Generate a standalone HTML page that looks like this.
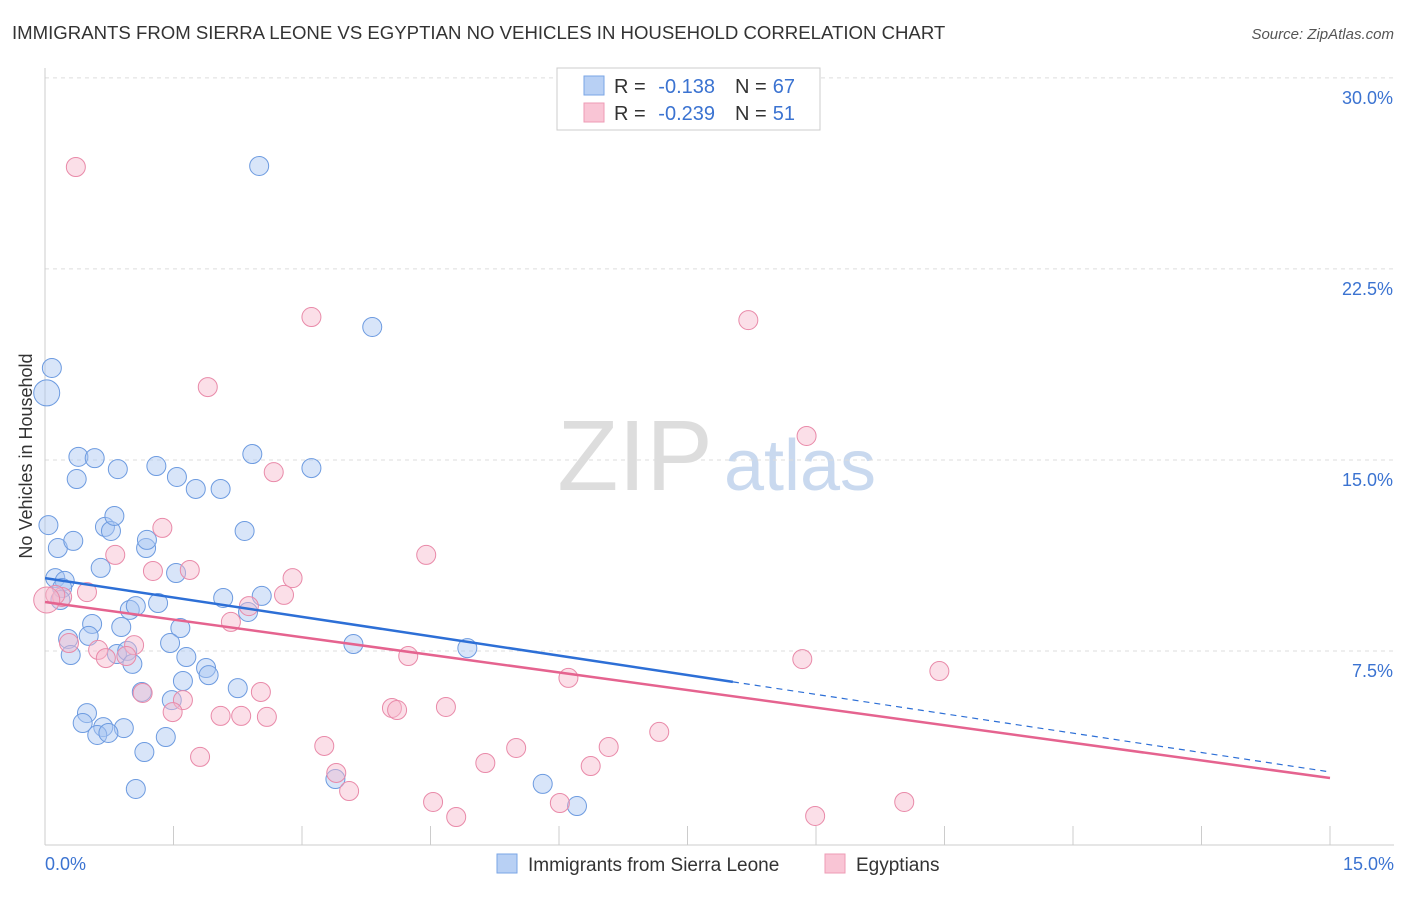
<!DOCTYPE html>
<html><head><meta charset="utf-8"><style>
body{margin:0;background:#fff;font-family:"Liberation Sans",sans-serif}
svg text{font-family:"Liberation Sans",sans-serif}
</style></head><body>
<svg id="chart" width="1406" height="892">
<text x="12" y="39" font-size="18.6" fill="#333">IMMIGRANTS FROM SIERRA LEONE VS EGYPTIAN NO VEHICLES IN HOUSEHOLD CORRELATION CHART</text>
<text x="1394" y="39" font-size="15" fill="#555" font-style="italic" text-anchor="end">Source: ZipAtlas.com</text>
<text x="32" y="456" font-size="18" fill="#333" text-anchor="middle" transform="rotate(-90 32 456)">No Vehicles in Household</text>
<g><text x="635" y="490" font-size="100" fill="#ddd" font-family="Liberation Serif" text-anchor="middle">ZIP</text><text x="800" y="490" font-size="72" fill="#c9d9ef" text-anchor="middle">atlas</text></g>
<g id="grid"></g><g id="axes"></g><g id="pts"></g><g id="trend"></g>
<g>
<rect x="557" y="68" width="263" height="62" fill="#fff" stroke="#ccc"/>
<rect x="584" y="76" width="20" height="19" fill="#b8d0f4" stroke="#7aa6e6"/>
<rect x="584" y="103" width="20" height="19" fill="#f9c5d5" stroke="#ee9bb5"/>
<text x="614" y="93" font-size="20" fill="#333">R =</text>
<text x="715" y="93" font-size="20" fill="#3b73d1" text-anchor="end">-0.138</text>
<text x="735" y="93" font-size="20" fill="#333">N =</text>
<text x="795" y="93" font-size="20" fill="#3b73d1" text-anchor="end">67</text>
<text x="614" y="120" font-size="20" fill="#333">R =</text>
<text x="715" y="120" font-size="20" fill="#3b73d1" text-anchor="end">-0.239</text>
<text x="735" y="120" font-size="20" fill="#333">N =</text>
<text x="795" y="120" font-size="20" fill="#3b73d1" text-anchor="end">51</text>
</g>
<g>
<rect x="497" y="854" width="20" height="19" fill="#b8d0f4" stroke="#7aa6e6"/>
<text x="528" y="871" font-size="19" fill="#333">Immigrants from Sierra Leone</text>
<rect x="825" y="854" width="20" height="19" fill="#f9c5d5" stroke="#ee9bb5"/>
<text x="856" y="871" font-size="19" fill="#333">Egyptians</text>
</g>
</svg>
<script>
const blueX=[0.02,0.08,0.04,0.15,0.33,0.39,0.37,0.58,0.85,1.30,1.54,1.76,2.05,2.42,3.11,2.50,3.82,0.70,0.77,0.81,1.18,1.19,2.33,0.65,1.53,0.12,0.23,0.20,0.18,0.99,1.06,1.32,2.08,2.37,2.53,0.55,0.89,1.58,0.27,0.51,1.46,0.30,0.84,0.96,1.02,1.65,1.88,1.91,1.61,2.25,1.13,1.48,0.49,0.44,0.68,0.92,0.61,0.74,1.41,1.16,3.60,4.93,3.39,5.81,6.21,1.06];
const blueY=[17.71,18.69,12.52,11.62,11.90,15.20,14.33,15.15,14.72,14.84,14.41,13.94,13.94,15.31,14.76,26.62,20.30,12.45,12.29,12.88,11.62,11.94,12.29,10.84,10.64,10.44,10.33,10.05,9.58,9.19,9.34,9.46,9.66,9.11,9.74,8.64,8.52,8.48,8.05,8.17,7.89,7.42,7.46,7.58,7.07,7.34,6.91,6.63,6.40,6.12,5.97,5.65,5.14,4.75,4.59,4.55,4.28,4.36,4.20,3.61,7.85,7.69,2.55,2.36,1.49,2.16];
const pinkX=[0.36,3.11,8.21,1.90,8.89,2.67,1.37,0.82,4.45,1.26,1.69,2.89,0.49,0.20,0.12,0.02,2.79,2.38,2.17,1.04,0.62,0.28,0.71,0.95,4.24,8.84,10.44,6.11,1.14,2.52,1.61,1.49,2.05,2.29,2.59,4.05,4.11,4.68,7.17,3.26,5.50,6.58,1.81,5.14,6.37,3.40,3.55,4.53,4.80,6.01,8.99,10.03];
const pinkY=[26.58,20.69,20.57,17.94,16.02,14.60,12.41,11.35,11.35,10.72,10.76,10.44,9.89,9.70,9.78,9.58,9.78,9.34,8.72,7.81,7.62,7.89,7.30,7.38,7.38,7.26,6.79,6.52,5.93,5.97,5.65,5.18,5.03,5.03,4.99,5.34,5.26,5.38,4.40,3.85,3.77,3.81,3.42,3.18,3.06,2.79,2.08,1.65,1.06,1.61,1.10,1.65];
const yTicks=[7.5,15,22.5,30];
const yTickLabels=["7.5%","15.0%","22.5%","30.0%"];
const blueTrend=[10.44,2.83], pinkTrend=[9.50,2.59], blueSolidEnd=8.03;
const X=v=>45+v/15*1285, Y=v=>844-v*25.47;
const NS="http://www.w3.org/2000/svg";
function mk(p,t,a){const e=document.createElementNS(NS,t);for(const k in a)e.setAttribute(k,a[k]);p.appendChild(e);return e;}
const grid=document.getElementById('grid'),axes=document.getElementById('axes'),pts=document.getElementById('pts'),tr=document.getElementById('trend');
yTicks.forEach((v,i)=>{const l=mk(grid,'line',{x1:45,x2:1394,y1:Y(v)-2,y2:Y(v)-2,stroke:'#ddd','stroke-dasharray':'4,4'});


const t=mk(axes,'text',{x:1393,y:Y(v)+24,'font-size':18,fill:'#3b73d1','text-anchor':'end'});t.textContent=yTickLabels[i];

});
const xa=mk(axes,'line',{x1:45,x2:1394,y1:845,y2:845,stroke:'#ccc'});


const ya=mk(axes,'line',{x1:45,x2:45,y1:68,y2:845,stroke:'#ccc'});


for(let i=1;i<=10;i++){const t=mk(axes,'line',{x1:X(i*1.5),x2:X(i*1.5),y1:826,y2:845,stroke:'#ccc'});

}
[[0,"0.0%",'start',45],[15,"15.0%",'end',1394]].forEach(a=>{const t=mk(axes,'text',{x:a[3],y:870,'font-size':18,fill:'#3b73d1','text-anchor':a[2]});t.textContent=a[1];

});
function dots(xs,ys,fill,stroke,name){xs.forEach((x,i)=>{const big=x<0.03;const c=mk(pts,'circle',{cx:X(x),cy:Y(ys[i]),r:big?13:9.5,fill:fill,'fill-opacity':0.45,stroke:stroke,'stroke-width':1});

});}
dots(blueX,blueY,'#a9c6f2','#6d9be0','sierra-leone-point');
dots(pinkX,pinkY,'#f7b8cc','#e98aa9','egyptian-point');
const bAt=v=>blueTrend[0]+(blueTrend[1]-blueTrend[0])*v/15;
let l=mk(tr,'line',{x1:X(0),y1:Y(blueTrend[0]),x2:X(blueSolidEnd),y2:Y(bAt(blueSolidEnd)),stroke:'#2d6fd6','stroke-width':2.5});


l=mk(tr,'line',{x1:X(blueSolidEnd),y1:Y(bAt(blueSolidEnd)),x2:X(15),y2:Y(blueTrend[1]),stroke:'#2d6fd6','stroke-width':1.2,'stroke-dasharray':'6,5'});


l=mk(tr,'line',{x1:X(0),y1:Y(pinkTrend[0]),x2:X(15),y2:Y(pinkTrend[1]),stroke:'#e5638f','stroke-width':2.5});


</script>
</body></html>
